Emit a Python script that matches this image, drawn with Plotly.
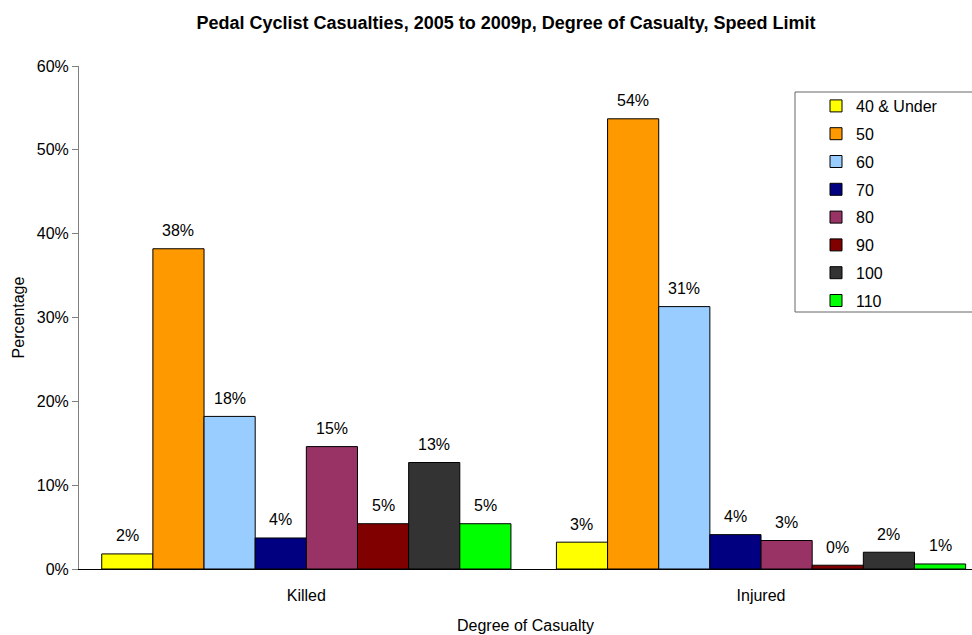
import plotly.graph_objects as go

# Degree of casualty categories and speed-limit series (share of casualties)
categories = ["Killed", "Injured"]
speed_limits = ["40 & Under", "50", "60", "70", "80", "90", "100", "110"]
killed = [0.018, 0.382, 0.182, 0.037, 0.146, 0.054, 0.127, 0.054]
injured = [0.032, 0.537, 0.313, 0.041, 0.034, 0.0045, 0.020, 0.006]
colors = ["#FFFF00", "#FF9900", "#99CCFF", "#000080",
          "#993366", "#800000", "#333333", "#00FF00"]

FONT = "Liberation Sans, Arial, sans-serif"
W, H = 972, 635
M_L, M_R, M_T, M_B = 79, 0, 66, 66
X_RANGE = [-0.5, 1.464]
BARGAP = 0.1

fig = go.Figure()
for i, name in enumerate(speed_limits):
    fig.add_trace(go.Bar(
        name=name,
        x=categories,
        y=[killed[i], injured[i]],
        marker=dict(color=colors[i], line=dict(color="#000000", width=1)),
        legendgroup=name,
        hoverinfo="skip",
    ))

# value labels centred above each bar of the grouped layout
plot_w = W - M_L - M_R
px_per_cat = plot_w / (X_RANGE[1] - X_RANGE[0])
bar_px = px_per_cat * (1 - BARGAP) / len(speed_limits)
annotations = []
for i in range(len(speed_limits)):
    for cat, vals in zip(categories, (killed, injured)):
        annotations.append(dict(
            x=cat, y=vals[i], xref="x", yref="y",
            text=f"{vals[i]:.0%}", showarrow=False,
            xshift=(i - (len(speed_limits) - 1) / 2) * bar_px,
            yshift=18, yanchor="middle",
            font=dict(family=FONT, size=16, color="#000000"),
        ))

def px_x(p):
    return (p - M_L) / plot_w

def px_y(p):
    return (H - M_B - p) / (H - M_T - M_B)

fig.update_layout(
    width=W, height=H,
    margin=dict(l=M_L, r=M_R, t=M_T, b=M_B, autoexpand=False),
    paper_bgcolor="#FFFFFF", plot_bgcolor="#FFFFFF",
    font=dict(family=FONT, size=16, color="#000000"),
    title=dict(
        text="<b>Pedal Cyclist Casualties, 2005 to 2009p, Degree of Casualty, Speed Limit</b>",
        x=506 / W, xref="container", xanchor="center",
        y=1 - 23 / H, yref="container", yanchor="middle",
        font=dict(family=FONT, size=18, color="#000000"),
    ),
    barmode="group", bargap=BARGAP, bargroupgap=0,
    xaxis=dict(
        range=X_RANGE, showgrid=False, zeroline=False,
        showline=True, linecolor="#000000", linewidth=1,
        ticks="", ticklabelstandoff=12,
        tickfont=dict(family=FONT, size=16),
        title=dict(text="Degree of Casualty", standoff=16,
                   font=dict(family=FONT, size=16)),
    ),
    yaxis=dict(
        range=[0, 0.6], dtick=0.1, tickformat=".0%",
        showgrid=False, zeroline=False,
        showline=True, linecolor="#808080", linewidth=1,
        ticks="outside", ticklen=6, tickcolor="#808080",
        tickfont=dict(family=FONT, size=16),
        title=dict(text="Percentage", standoff=8,
                   font=dict(family=FONT, size=16)),
    ),
    legend=dict(
        x=px_x(816), y=px_y(89), xanchor="left", yanchor="top",
        bgcolor="rgba(0,0,0,0)", borderwidth=0,
        traceorder="grouped", tracegroupgap=4,
        font=dict(family=FONT, size=16),
    ),
    shapes=[dict(
        type="rect", xref="paper", yref="paper",
        x0=px_x(795), x1=1.05, y0=px_y(312), y1=px_y(92),
        line=dict(color="#666666", width=1), fillcolor="rgba(0,0,0,0)",
        layer="above",
    )],
    annotations=annotations,
)

fig.write_html("out.html")
